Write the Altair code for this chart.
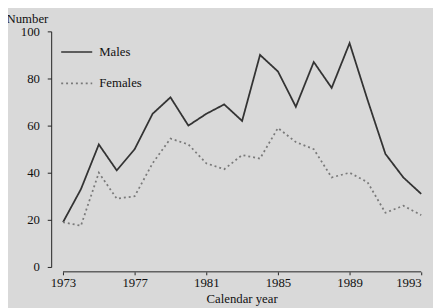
import altair as alt
import pandas as pd

years = list(range(1973, 1994))
males = [19, 33, 52, 41, 50, 65, 72, 60, 65, 69, 62, 90, 83, 68, 87, 76, 95, 71, 48, 38, 31]
females = [19, 17.5, 40, 29, 30, 44, 54.5, 52, 44, 41.5, 47.5, 46, 59, 53, 50, 38, 40, 36, 23, 26, 22]

df = pd.DataFrame({
    "year": years * 2,
    "value": males + females,
    "sex": ["Males"] * len(years) + ["Females"] * len(years),
})

FONT = "Liberation Serif"
FS = 13
W, H = 377, 240
OFF = 5

xscale = alt.Scale(domain=[1972.34, 1993], nice=False, zero=False)

lines = alt.Chart(df).mark_line(strokeWidth=1.8).encode(
    x=alt.X("year:Q", scale=xscale,
            axis=alt.Axis(values=years, domain=False, offset=OFF, tickSize=3,
                          tickColor="#222", labelFont=FONT, labelFontSize=FS,
                          labelColor="#111", labelPadding=2,
                          labelExpr="(datum.value - 1973) % 4 == 0 ? datum.value : ''",
                          format="d", grid=False, title="Calendar year",
                          titleFont=FONT, titleFontSize=FS, titleFontWeight="normal",
                          titleColor="#111", titlePadding=3, titleX=194)),
    y=alt.Y("value:Q", scale=alt.Scale(domain=[0, 100], nice=False),
            axis=alt.Axis(values=[0, 20, 40, 60, 80, 100], tickSize=4, tickColor="#222",
                          domainColor="#222", labelFont=FONT, labelFontSize=FS,
                          labelColor="#111", labelPadding=8, grid=False,
                          title="Number", titleFont=FONT, titleFontSize=FS,
                          titleFontWeight="normal", titleColor="#111", titleAngle=0,
                          titleAlign="left", titleBaseline="alphabetic",
                          titleX=-46, titleY=-9)),
    color=alt.Color("sex:N", scale=alt.Scale(domain=["Males", "Females"], range=["#333333", "#7a7a7a"]),
                    legend=alt.Legend(orient="none", legendX=9, legendY=4, title=None,
                                      symbolType="stroke", symbolSize=1000,
                                      symbolStrokeWidth=1.6, labelFont=FONT,
                                      labelFontSize=FS, labelColor="#111",
                                      labelOffset=6, rowPadding=8)),
    strokeDash=alt.StrokeDash("sex:N", scale=alt.Scale(domain=["Males", "Females"], range=[[1, 0], [2, 3]]),
                              legend=None),
)

axis_line = alt.Chart(pd.DataFrame({"a": [1973], "b": [1993]})).mark_rule(color="#222", strokeWidth=1).encode(
    x=alt.X("a:Q", scale=xscale),
    x2="b:Q",
    y=alt.value(H + OFF),
)

chart = alt.layer(lines, axis_line).properties(
    width=W, height=H,
    autosize=alt.AutoSizeParams(type="none"),
    padding={"left": 44, "top": 21, "right": 12, "bottom": 39},
    background="#d9d9d9",
).configure_view(stroke=None)

chart.save("out.html", embed_options={"renderer": "svg", "actions": False})
